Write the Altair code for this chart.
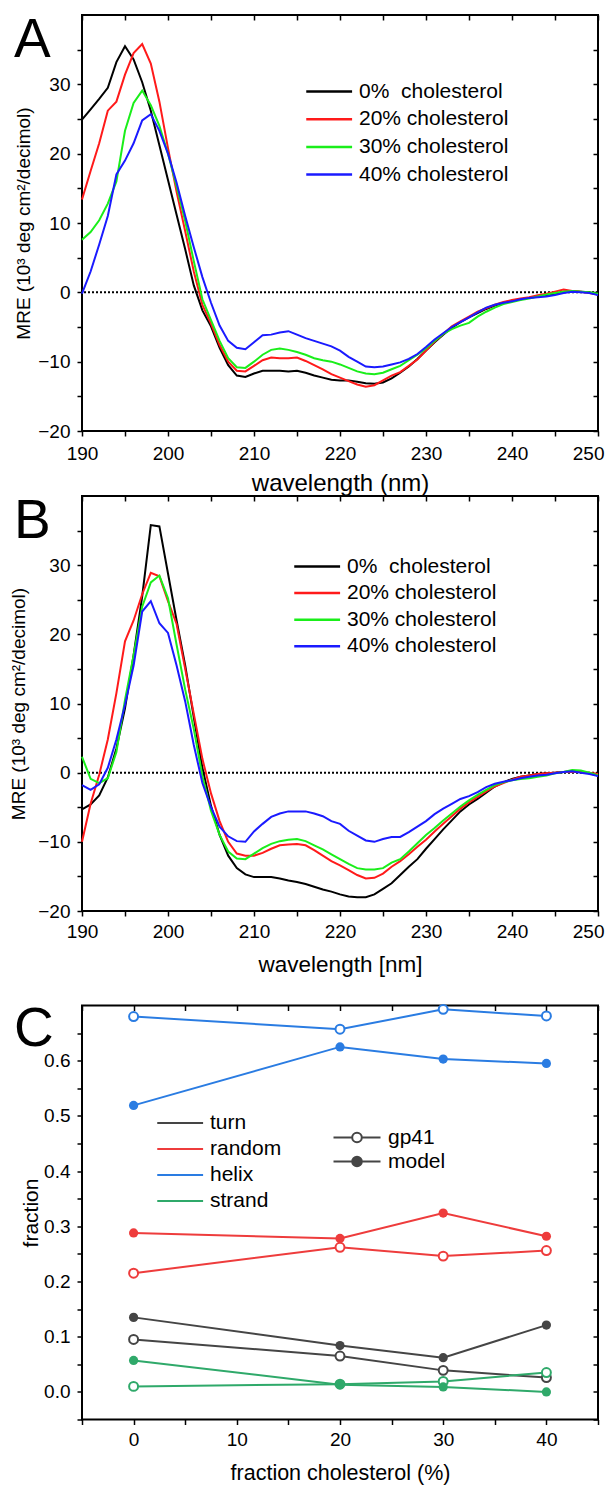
import altair as alt
import pandas as pd

# ---------------- data ----------------
WAVELENGTH = list(range(190, 251))

A_0 = [24.9, 26.4, 27.9, 29.5, 33.2, 35.5, 33.6, 30.3, 26.2, 21.2,
       16.2, 11.2, 6.2, 1.0, -2.6, -4.9, -8.0, -10.5, -12.0, -12.2,
       -11.7, -11.3, -11.3, -11.3, -11.4, -11.3, -11.6, -12.0, -12.3, -12.6,
       -12.7, -12.7, -12.9, -13.1, -13.2, -13.0, -12.4, -11.6, -10.7, -9.6,
       -8.4, -7.2, -6.1, -5.1, -4.3, -3.6, -3.0, -2.4, -1.9, -1.5,
       -1.2, -1.0, -0.8, -0.6, -0.4, -0.2, 0.1, 0.2, 0.1, 0.0, -0.3]
A_20 = [13.4, 17.5, 21.5, 26.2, 27.5, 31.4, 34.5, 35.8, 33.0, 27.5,
        20.8, 14.5, 8.8, 3.0, -1.8, -4.5, -7.6, -10.0, -11.3, -11.4,
        -10.6, -9.8, -9.4, -9.5, -9.5, -9.4, -9.9, -10.5, -11.1, -11.8,
        -12.3, -12.8, -13.3, -13.6, -13.4, -12.7, -12.0, -11.5, -10.6, -9.7,
        -8.4, -7.1, -6.0, -4.9, -4.2, -3.5, -2.8, -2.3, -1.8, -1.4,
        -1.1, -0.9, -0.7, -0.4, -0.2, 0.1, 0.4, 0.2, 0.1, -0.1, -0.3]
A_30 = [7.6, 8.7, 10.4, 12.8, 16.0, 23.3, 27.3, 29.1, 27.0, 24.0,
        20.0, 15.3, 10.3, 4.5, -1.0, -4.0, -7.0, -9.5, -10.8, -10.9,
        -10.0, -9.0, -8.3, -8.1, -8.3, -8.6, -9.0, -9.5, -9.8, -10.0,
        -10.4, -10.9, -11.4, -11.7, -11.8, -11.6, -11.1, -10.6, -9.8, -9.0,
        -8.1, -7.0, -6.0, -5.3, -4.8, -4.4, -3.5, -2.8, -2.2, -1.7,
        -1.4, -1.1, -0.9, -0.6, -0.3, -0.1, 0.1, 0.2, 0.1, 0.0, -0.2]
A_40 = [-0.2, 3.0, 6.9, 11.0, 17.0, 19.0, 21.5, 24.8, 25.7, 23.3,
        20.0, 15.8, 11.0, 6.5, 2.2, -1.5, -4.8, -7.0, -8.0, -8.2,
        -7.2, -6.2, -6.1, -5.8, -5.6, -6.1, -6.6, -7.0, -7.4, -7.8,
        -8.4, -9.3, -10.0, -10.7, -10.8, -10.7, -10.4, -10.1, -9.6, -8.9,
        -7.9, -6.8, -5.9, -5.0, -4.3, -3.6, -2.9, -2.2, -1.8, -1.5,
        -1.3, -1.0, -0.8, -0.7, -0.6, -0.4, -0.1, 0.1, 0.0, -0.1, -0.4]

B_0 = [-5.3, -4.6, -3.3, -0.7, 3.5, 9.3, 17.0, 25.5, 35.8, 35.6,
       28.8, 22.0, 15.5, 8.0, 0.7, -4.8, -9.0, -12.0, -13.8, -14.7,
       -15.1, -15.1, -15.1, -15.3, -15.6, -15.8, -16.1, -16.5, -16.9, -17.2,
       -17.6, -17.9, -18.0, -18.0, -17.6, -16.8, -16.0, -14.8, -13.6, -12.5,
       -11.0, -9.6, -8.2, -6.9, -5.6, -4.6, -3.8, -2.9, -2.0, -1.4,
       -0.9, -0.6, -0.4, -0.2, -0.1, 0.0, 0.1, 0.2, 0.1, -0.1, -0.4]
B_20 = [-10.0, -4.5, -0.3, 4.8, 11.5, 19.0, 22.0, 25.8, 28.9, 28.4,
        24.8, 21.5, 15.0, 8.5, 2.0, -3.0, -7.0, -10.0, -11.7, -12.0,
        -12.0, -11.6, -11.0, -10.5, -10.4, -10.3, -10.5, -11.2, -12.0, -12.8,
        -13.4, -14.1, -14.8, -15.3, -15.2, -14.6, -13.6, -12.8, -11.8, -10.7,
        -9.7, -8.5, -7.4, -6.3, -5.2, -4.3, -3.5, -2.7, -2.0, -1.5,
        -1.0, -0.6, -0.4, -0.2, -0.1, 0.0, 0.1, 0.1, 0.1, 0.0, -0.2]
B_30 = [2.3, -0.9, -1.5, -0.8, 3.0, 10.5, 17.0, 24.0, 27.5, 28.5,
        25.2, 18.5, 12.0, 6.3, -0.5, -5.5, -9.0, -11.4, -12.4, -12.5,
        -11.7, -10.9, -10.3, -9.9, -9.7, -9.6, -9.9, -10.5, -11.1, -11.8,
        -12.5, -13.2, -13.8, -14.0, -14.0, -13.8, -13.0, -12.5, -11.4, -10.2,
        -9.0, -8.0, -6.9, -5.9, -4.9, -4.0, -3.2, -2.5, -1.8, -1.4,
        -1.1, -0.9, -0.8, -0.6, -0.4, -0.1, 0.1, 0.4, 0.3, 0.0, -0.4]
B_40 = [-1.8, -2.5, -1.7, 0.7, 4.8, 9.8, 15.5, 23.3, 24.8, 21.6,
        20.2, 15.5, 10.3, 4.0, -1.5, -5.0, -7.8, -9.2, -9.9, -10.0,
        -8.5, -7.4, -6.4, -5.9, -5.6, -5.6, -5.6, -5.9, -6.3, -7.0,
        -7.4, -8.4, -9.1, -9.8, -10.0, -9.6, -9.3, -9.3, -8.6, -7.8,
        -7.0, -6.0, -5.2, -4.5, -3.8, -3.4, -2.8, -2.1, -1.6, -1.3,
        -1.1, -0.8, -0.6, -0.4, -0.3, -0.1, 0.1, 0.2, 0.0, -0.2, -0.5]

SERIES_LABELS = ["\u00a00%\u00a0\u00a0cholesterol", "20% cholesterol",
                 "30% cholesterol", "40% cholesterol"]
SERIES_COLORS = ["#000000", "#ff1a1a", "#1aee1a", "#1a1aff"]
ZERO = [0]

CHOLESTEROL = [0, 20, 30, 40]
TURN_GP41 = [0.095, 0.065, 0.039, 0.026]
TURN_MODEL = [0.135, 0.084, 0.062, 0.121]
RANDOM_GP41 = [0.215, 0.262, 0.246, 0.256]
RANDOM_MODEL = [0.288, 0.278, 0.324, 0.282]
HELIX_GP41 = [0.680, 0.657, 0.693, 0.681]
HELIX_MODEL = [0.519, 0.625, 0.603, 0.595]
STRAND_GP41 = [0.010, 0.014, 0.019, 0.035]
STRAND_MODEL = [0.057, 0.013, 0.009, 0.000]
STRUCTURES = ["turn", "random", "helix", "strand"]
STRUCT_COLORS = ["#454545", "#ee3c3c", "#2a7ce2", "#2fa96a"]
SAMPLES = ["gp41", "model"]
SAMPLE_FILLS = ["#ffffff", "#454545"]

X_TICKS_SPEC = list(range(190, 251, 5))
Y_TICKS_SPEC = list(range(-20, 40, 5))
X_TICKS_FRAC = list(range(-5, 46, 5))
Y_TICKS_FRAC = [-0.05, 0.0, 0.05, 0.1, 0.15, 0.2, 0.25, 0.3, 0.35, 0.4,
                0.45, 0.5, 0.55, 0.6, 0.65]

FONT = "Liberation Sans"
W = 516
TICK = 5
LINE_SYMBOL = "M-7.2,0L1,0"
GP_SYMBOL = ("M-8.4,0L-4.66,0M-2.74,0L1,0M-2.74,0"
             "A0.96,0.96,0,1,1,-4.66,0A0.96,0.96,0,1,1,-2.74,0Z")


def mirror_axes(xvals, yvals):
    xa = alt.Axis(orient="top", values=xvals, labels=False, title=None,
                  offset=-TICK, tickSize=TICK, domain=False)
    ya = alt.Axis(orient="right", values=yvals, labels=False, title=None,
                  offset=-TICK, tickSize=TICK, domain=False)
    return xa, ya


def letter_layer(letter, ypos=-1):
    return alt.Chart(pd.DataFrame({"t": [letter]})).mark_text(
        align="left", baseline="top", fontSize=55, font=FONT, color="black"
    ).encode(text="t:N", x=alt.value(-68), y=alt.value(ypos))


def spectrum(curves, letter, xtitle, h, lx, ly, rp, ytp, xlp, xtp, xfs):
    rows = []
    for name, vals in zip(SERIES_LABELS, curves):
        assert len(vals) == len(WAVELENGTH)
        for w, v in zip(WAVELENGTH, vals):
            rows.append({"wavelength": w, "mre": v, "sample": name})
    df = pd.DataFrame(rows)
    xs = alt.Scale(domain=[190, 250], nice=False)
    ys = alt.Scale(domain=[-20, 40], nice=False, zero=False)
    x_axis = alt.Axis(
        orient="bottom", values=X_TICKS_SPEC, labelFlush=False,
        labelExpr="datum.value % 10 == 0 ? datum.label : ''",
        labelAlign={"condition": {"test": "datum.value == 250", "value": "right"},
                    "value": "center"},
        labelOffset={"condition": {"test": "datum.value == 250", "value": 6},
                     "value": 0},
        labelPadding=xlp, title=xtitle, titlePadding=xtp, titleFontSize=xfs)
    y_axis = alt.Axis(
        orient="left", values=Y_TICKS_SPEC,
        labelExpr="datum.value % 10 == 0 ? datum.label : ''", labelPadding=7,
        title="MRE (10³ deg cm²/decimol)", titlePadding=ytp, titleFontSize=19)
    zero = alt.Chart(pd.DataFrame({"mre": ZERO})).mark_rule(
        color="black", strokeWidth=2, strokeDash=[2, 2]
    ).encode(y=alt.Y("mre:Q", scale=ys, axis=None))
    lines = alt.Chart(df).mark_line(strokeWidth=2).encode(
        x=alt.X("wavelength:Q", scale=xs, axis=x_axis),
        y=alt.Y("mre:Q", scale=ys, axis=y_axis),
        color=alt.Color("sample:N",
                        scale=alt.Scale(domain=SERIES_LABELS, range=SERIES_COLORS),
                        legend=alt.Legend(title=None, orient="none", legendX=lx,
                                          legendY=ly, symbolType=LINE_SYMBOL,
                                          symbolSize=125, symbolStrokeWidth=2.5,
                                          labelFontSize=21, labelOffset=2,
                                          rowPadding=rp)),
    )
    mxa, mya = mirror_axes(X_TICKS_SPEC, Y_TICKS_SPEC)
    mirror = alt.Chart(df).transform_filter("false").mark_point().encode(
        x=alt.X("wavelength:Q", scale=xs, axis=mxa),
        y=alt.Y("mre:Q", scale=ys, axis=mya))
    return alt.layer(zero, lines, mirror, letter_layer(letter)).resolve_axis(
        x="independent", y="independent").properties(width=W, height=h)


panel_a = spectrum([A_0, A_20, A_30, A_40], "A", "wavelength (nm)", 416,
                   254, 66, 5.7, 4, 8, 8, 24)
panel_b = spectrum([B_0, B_20, B_30, B_40], "B", "wavelength [nm]", 415,
                   242, 60, 4.6, 9, 6, 12, 22.5)

# ---------------- panel C ----------------
rows = []
for s, gp, md in zip(STRUCTURES,
                     [TURN_GP41, RANDOM_GP41, HELIX_GP41, STRAND_GP41],
                     [TURN_MODEL, RANDOM_MODEL, HELIX_MODEL, STRAND_MODEL]):
    for c, v1, v2 in zip(CHOLESTEROL, gp, md):
        rows.append({"chol": c, "frac": v1, "structure": s, "sample": "gp41"})
        rows.append({"chol": c, "frac": v2, "structure": s, "sample": "model"})
dfc = pd.DataFrame(rows)

xsc = alt.Scale(domain=[-5, 45], nice=False)
ysc = alt.Scale(domain=[-0.05, 0.7], nice=False, zero=False)
cscale = alt.Scale(domain=STRUCTURES, range=STRUCT_COLORS)
xc_axis = alt.Axis(
    orient="bottom", values=X_TICKS_FRAC, labelFlush=False,
    labelExpr="(datum.value >= 0 && datum.value <= 40 && datum.value % 10 == 0) ? datum.label : ''",
    labelPadding=6, title="fraction cholesterol (%)", titlePadding=13,
    titleFontSize=21.5)
yc_axis = alt.Axis(
    orient="left", values=Y_TICKS_FRAC, labelPadding=7,
    labelExpr="(datum.value >= 0 && datum.value <= 0.61 && round(datum.value * 20) % 2 == 0) ? format(datum.value, '.1f') : ''",
    title="fraction", titlePadding=2, titleFontSize=21)

lines_c = alt.Chart(dfc).mark_line(strokeWidth=2).encode(
    x=alt.X("chol:Q", scale=xsc, axis=xc_axis),
    y=alt.Y("frac:Q", scale=ysc, axis=yc_axis),
    color=alt.Color("structure:N", scale=cscale,
                    legend=alt.Legend(title=None, orient="none", legendX=105,
                                      legendY=107, symbolType=LINE_SYMBOL,
                                      symbolSize=125, symbolStrokeWidth=2,
                                      labelFontSize=21, labelOffset=2,
                                      rowPadding=4)),
    detail="sample:N",
)
pts_model = alt.Chart(dfc).transform_filter("datum.sample == 'model'").mark_point(
    filled=True, size=85, opacity=1
).encode(
    x=alt.X("chol:Q", scale=xsc, axis=None),
    y=alt.Y("frac:Q", scale=ysc, axis=None),
    color=alt.Color("structure:N", scale=cscale, legend=None))
pts_gp41 = alt.Chart(dfc).transform_filter("datum.sample == 'gp41'").mark_point(
    filled=False, fill="white", size=80, strokeWidth=2, opacity=1
).encode(
    x=alt.X("chol:Q", scale=xsc, axis=None),
    y=alt.Y("frac:Q", scale=ysc, axis=None),
    color=alt.Color("structure:N", scale=cscale, legend=None))
sample_key = alt.Chart(dfc).transform_filter("false").mark_point(
    filled=True, size=100, stroke="#454545", strokeWidth=2, opacity=1
).encode(
    x=alt.X("chol:Q", scale=xsc, axis=None),
    y=alt.Y("frac:Q", scale=ysc, axis=None),
    fill=alt.Fill("sample:N", scale=alt.Scale(domain=SAMPLES, range=SAMPLE_FILLS),
                  legend=alt.Legend(title=None, orient="none", legendX=283,
                                    legendY=121.5, symbolType=GP_SYMBOL,
                                    symbolSize=100, symbolStrokeWidth=2,
                                    symbolStrokeColor="#454545",
                                    labelFontSize=21, labelOffset=2,
                                    rowPadding=2)))
mxc, myc = mirror_axes(X_TICKS_FRAC, Y_TICKS_FRAC)
mirror_c = alt.Chart(dfc).transform_filter("false").mark_point().encode(
    x=alt.X("chol:Q", scale=xsc, axis=mxc),
    y=alt.Y("frac:Q", scale=ysc, axis=myc))

panel_c = alt.layer(lines_c, pts_gp41, pts_model, sample_key, mirror_c,
                    letter_layer("C", -3)).resolve_axis(
    x="independent", y="independent").properties(width=W, height=414)

top_pair = alt.vconcat(panel_a, panel_b, spacing=-5).resolve_scale(
    color="independent")
chart = alt.vconcat(top_pair, panel_c, spacing=22.5).resolve_scale(
    color="independent", fill="independent"
).properties(
    padding={"left": 0, "top": 4, "right": 0, "bottom": 0}
).configure_view(
    stroke="black", strokeWidth=2
).configure_axis(
    labelFont=FONT, titleFont=FONT, labelFontSize=19, titleFontWeight="normal",
    labelColor="black", titleColor="black", tickColor="black", tickWidth=1.5,
    tickSize=TICK, grid=False, domain=False
).configure_legend(
    labelFont=FONT, labelColor="black", padding=0
)

chart.save("out.html", embed_options={"renderer": "svg", "actions": False})
